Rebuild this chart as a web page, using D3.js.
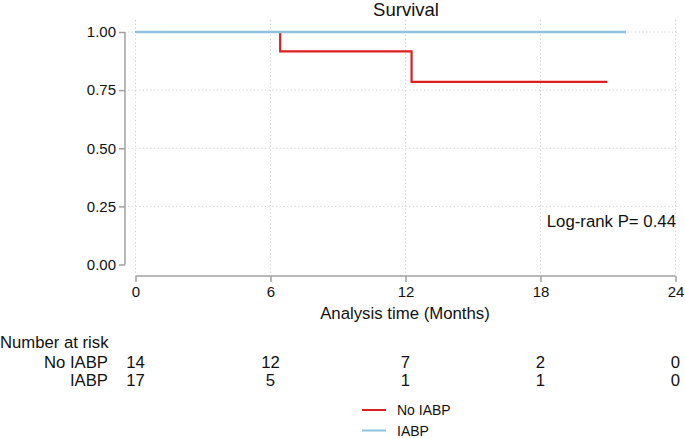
<!DOCTYPE html>
<html><head><meta charset="utf-8">
<script src="https://cdn.jsdelivr.net/npm/d3@7"></script>
<style>body{margin:0;background:#fff}svg{display:block;font-family:"Liberation Sans",Arial,sans-serif}</style>
</head><body>
<svg id="c" width="685" height="438"></svg>
<script>
const groups = ["No IABP", "IABP"];
const colors = ["#dd1f1f", "#8ec3de"];
// step survival curves: [time, survival]
const noIabpCurve = [[0,1],[6.43,1],[6.43,0.9167],[12.27,0.9167],[12.27,0.7857],[20.97,0.7857]];
const iabpCurve = [[0,1],[21.8,1]];
const xTicks = [0,6,12,18,24];
const yTicks = [0,0.25,0.5,0.75,1];
const riskNoIabp = [14,12,7,2,0];
const riskIabp = [17,5,1,1,0];
const pText = "Log-rank P= 0.44";

const svg = d3.select("#c");
const x = d3.scaleLinear().domain([0,24]).range([135.5,675.5]);
const y = d3.scaleLinear().domain([0,1]).range([264.5,32]);
const axisCol = "#a0a0a0";
const ff = "Liberation Sans, Arial, sans-serif";

// grid
svg.append("g").selectAll("line").data(xTicks).join("line")
  .attr("x1",d=>x(d)).attr("x2",d=>x(d)).attr("y1",20).attr("y2",275)
  .attr("stroke","#cfcfcf").attr("stroke-width",1).attr("stroke-dasharray","1.2,2.5");
svg.append("g").selectAll("line").data(yTicks.filter(d=>d>0)).join("line")
  .attr("x1",128).attr("x2",677).attr("y1",d=>y(d)).attr("y2",d=>y(d))
  .attr("stroke","#cfcfcf").attr("stroke-width",1).attr("stroke-dasharray","1.2,2.5");

// y axis
const ya = svg.append("g").attr("transform","translate(125,0)")
  .call(d3.axisLeft(y).tickValues(yTicks).tickFormat(d3.format(".2f")).tickSize(6).tickPadding(3));
ya.select(".domain").attr("stroke",axisCol).attr("stroke-width",1.5).attr("d",`M0,${y(1)}V${y(0)}`);
ya.selectAll(".tick line").attr("stroke",axisCol).attr("stroke-width",1.5);
ya.selectAll(".tick text").attr("font-size",15).attr("fill","#111").attr("font-family",ff);

// x axis
const xa = svg.append("g").attr("transform","translate(0,276)")
  .call(d3.axisBottom(x).tickValues(xTicks).tickSize(6).tickPadding(4));
xa.select(".domain").attr("stroke",axisCol).attr("stroke-width",1.5).attr("d",`M${x(0)},0H${x(24)}`);
xa.selectAll(".tick line").attr("stroke",axisCol).attr("stroke-width",1.5);
xa.selectAll(".tick text").attr("font-size",15).attr("fill","#111").attr("font-family",ff);

// curves (blue drawn over red)
const line = d3.line().x(d=>x(d[0])).y(d=>y(d[1]));
svg.append("path").datum(noIabpCurve).attr("d",line).attr("fill","none").attr("stroke",colors[0]).attr("stroke-width",2.2);
svg.append("path").datum(iabpCurve).attr("d",line).attr("fill","none").attr("stroke",colors[1]).attr("stroke-width",2.3);

// texts
svg.append("text").attr("x",406).attr("y",15.5).attr("text-anchor","middle").attr("font-size",18.5).attr("fill","#111").text("Survival");
svg.append("text").attr("x",405).attr("y",319).attr("text-anchor","middle").attr("font-size",16.8).attr("fill","#111").text("Analysis time (Months)");
svg.append("text").attr("x",676).attr("y",226.8).attr("text-anchor","end").attr("font-size",16.8).attr("fill","#111").text(pText);

// number at risk
svg.append("text").attr("x",0).attr("y",347.8).attr("font-size",16.7).attr("fill","#111").text("Number at risk");
const rows = [riskNoIabp, riskIabp];
const rowY = [368.3, 386];
rows.forEach((r,i)=>{
  svg.append("text").attr("x",108).attr("y",rowY[i]).attr("text-anchor","end").attr("font-size",16.7).attr("fill","#111").text(groups[i]);
  svg.append("g").selectAll("text").data(r).join("text")
    .attr("x",(d,j)=>x(xTicks[j])).attr("y",rowY[i]).attr("text-anchor","middle").attr("font-size",16.7).attr("fill","#111").text(d=>d);
});

// legend
const lg = svg.append("g");
groups.forEach((g,i)=>{
  const ly = 410 + i*20.5;
  lg.append("line").attr("x1",362).attr("x2",386).attr("y1",ly).attr("y2",ly).attr("stroke",colors[i]).attr("stroke-width",2);
  lg.append("text").attr("x",397).attr("y",ly+5).attr("font-size",14).attr("fill","#111").text(g);
});
</script>
</body></html>
